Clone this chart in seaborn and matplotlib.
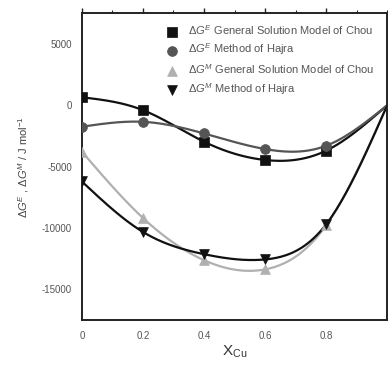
import numpy as np
import pandas as pd
import matplotlib
matplotlib.use("Agg")
import matplotlib.pyplot as plt
import seaborn as sns
from matplotlib.ticker import MultipleLocator

x_cu = [0.0, 0.2, 0.4, 0.6, 0.8, 1.0]
ge_chou = [650, -400, -2970, -4460, -3700, 0]
ge_hajra = [-1750, -1350, -2300, -3570, -3300, 0]
gm_chou = [-3780, -9180, -12620, -13370, -9780, 0]
gm_hajra = [-6210, -10320, -12130, -12560, -9700, 0]

labels = [r"$\Delta G^{E}$ General Solution Model of Chou",
          r"$\Delta G^{E}$ Method of Hajra",
          r"$\Delta G^{M}$ General Solution Model of Chou",
          r"$\Delta G^{M}$ Method of Hajra"]
series = [ge_chou, ge_hajra, gm_chou, gm_hajra]
markers = ["s", "o", "^", "v"]
colors = ["#111111", "#555555", "#b0b0b0", "#111111"]


def natural_spline(x, y, xs):
    x = np.asarray(x, float); y = np.asarray(y, float)
    n = len(x)
    h = np.diff(x)
    A = np.zeros((n, n)); b = np.zeros(n)
    A[0, 0] = 1; A[-1, -1] = 1
    for i in range(1, n - 1):
        A[i, i - 1] = h[i - 1]
        A[i, i] = 2 * (h[i - 1] + h[i])
        A[i, i + 1] = h[i]
        b[i] = 3 * ((y[i + 1] - y[i]) / h[i] - (y[i] - y[i - 1]) / h[i - 1])
    c = np.linalg.solve(A, b)
    out = np.empty_like(xs)
    for k, xv in enumerate(xs):
        i = min(max(np.searchsorted(x, xv) - 1, 0), n - 2)
        dx = xv - x[i]
        bi = (y[i + 1] - y[i]) / h[i] - h[i] * (2 * c[i] + c[i + 1]) / 3
        di = (c[i + 1] - c[i]) / (3 * h[i])
        out[k] = y[i] + bi * dx + c[i] * dx ** 2 + di * dx ** 3
    return out


sns.set_style("white")
plt.rcParams["font.family"] = ["Liberation Sans", "DejaVu Sans"]
plt.rcParams["mathtext.fontset"] = "custom"
plt.rcParams["mathtext.rm"] = "Liberation Sans"
plt.rcParams["mathtext.it"] = "Liberation Sans:italic"
plt.rcParams["axes.unicode_minus"] = False

fig = plt.figure(figsize=(3.88, 3.65), dpi=100)
ax = fig.add_axes([0.211, 0.123, 0.787, 0.841])

xs = np.linspace(0, 1, 200)
for lab, ys, m, c in zip(labels, series, markers, colors):
    df_line = pd.DataFrame({"x": xs, "y": natural_spline(x_cu, ys, xs)})
    sns.lineplot(data=df_line, x="x", y="y", ax=ax, color=c, lw=1.6,
                 legend=False)
    df = pd.DataFrame({"x": x_cu[:-1], "y": ys[:-1]})
    sns.scatterplot(data=df, x="x", y="y", ax=ax, marker=m, color=c,
                    s=50, edgecolor=c, linewidth=0.5, label=lab, zorder=3)

ax.set_xlim(0, 1.0)
ax.set_ylim(-17500, 7500)
ax.set_xticks([0, 0.2, 0.4, 0.6, 0.8])
ax.set_xticklabels(["0", "0.2", "0.4", "0.6", "0.8"])
ax.set_yticks([5000, 0, -5000, -10000, -15000])
ax.xaxis.set_minor_locator(MultipleLocator(0.1))
ax.yaxis.set_minor_locator(MultipleLocator(2500))
ax.tick_params(axis="both", which="major", labelsize=7, colors="#222222",
               labelcolor="#555555", length=3.5, width=1,
               top=True, right=True, direction="out")
ax.tick_params(axis="x", which="major", pad=4)
ax.tick_params(axis="both", which="minor", length=2, width=0.8,
               top=True, right=True, direction="out")
for sp in ax.spines.values():
    sp.set_linewidth(1.4)
    sp.set_color("#222222")

ax.set_xlabel(r"$\mathrm{X}_{\mathrm{Cu}}$", fontsize=11, color="#333333",
              labelpad=2)
ax.set_ylabel(r"$\Delta G^{E}$ , $\Delta G^{M}$ / J mol$^{-1}$", fontsize=8,
              color="#444444", labelpad=8)

leg = ax.legend(loc="upper left", frameon=False, fontsize=8,
                handletextpad=0.9, labelspacing=0.45, handlelength=1.2,
                bbox_to_anchor=(0.25, 0.99), markerscale=1.0,
                borderaxespad=0.2)
for t in leg.get_texts():
    t.set_color("#555555")

fig.savefig("out.png", dpi=100)
